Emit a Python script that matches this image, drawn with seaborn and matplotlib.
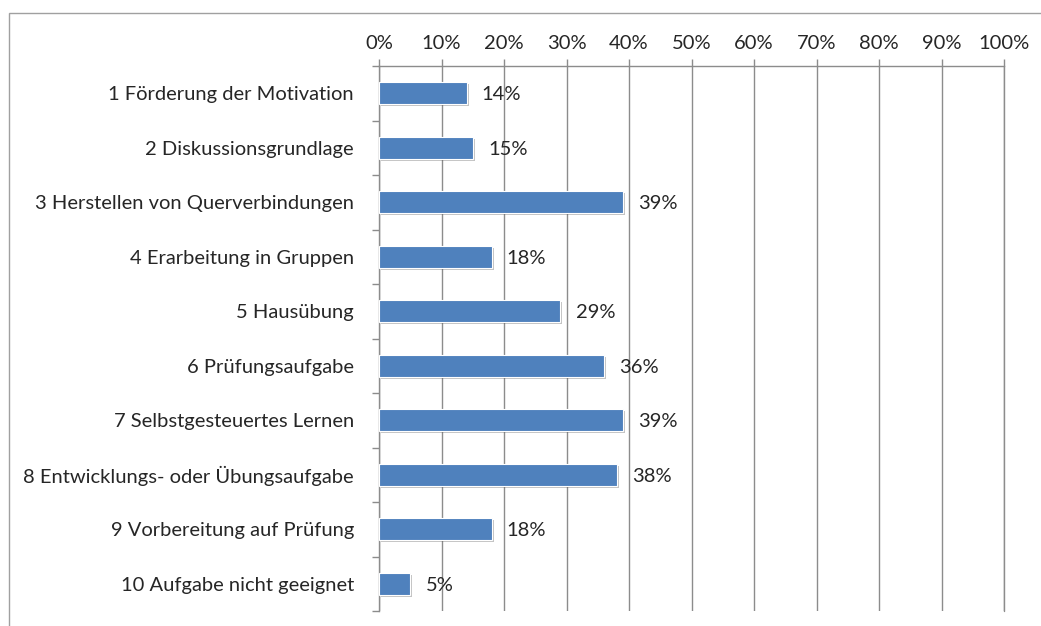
import matplotlib
matplotlib.use("Agg")
import matplotlib.pyplot as plt
import matplotlib.patheffects as pe
from matplotlib.patches import Rectangle
import seaborn as sns
import pandas as pd
import numpy as np

# Data
categories = [
    "1 Förderung der Motivation",
    "2 Diskussionsgrundlage",
    "3 Herstellen von Querverbindungen",
    "4 Erarbeitung in Gruppen",
    "5 Hausübung",
    "6 Prüfungsaufgabe",
    "7 Selbstgesteuertes Lernen",
    "8 Entwicklungs- oder Übungsaufgabe",
    "9 Vorbereitung auf Prüfung",
    "10 Aufgabe nicht geeignet",
]
values = [14, 15, 39, 18, 29, 36, 39, 38, 18, 5]
x_ticks = list(range(0, 101, 10))

BAR_COLOR = "#4F81BD"
GRID_COLOR = "#8C8C8C"
TEXT_COLOR = "#262626"
FS = 14.5

sns.set_theme(style="white")
plt.rcParams["font.family"] = ["Lato", "DejaVu Sans"]

df = pd.DataFrame({"cat": categories, "val": values})

fig = plt.figure(figsize=(10.41, 6.26), dpi=100)
ax = fig.add_axes([379 / 1041, 1 - 611 / 626, 625 / 1041, 545 / 626])

sns.barplot(data=df, x="val", y="cat", orient="h", color=BAR_COLOR,
            width=0.4, saturation=1, ax=ax, zorder=3)

for p in ax.patches:
    p.set_edgecolor("white")
    p.set_linewidth(0.8)
    p.set_path_effects([pe.SimplePatchShadow(offset=(1.5, -1.5), alpha=0.35,
                                             shadow_rgbFace="#555555"),
                        pe.Normal()])

# data labels
for i, v in enumerate(values):
    ax.annotate(f"{v}%", xy=(v, i), xytext=(11, -1), textcoords="offset points",
                va="center", ha="left", fontsize=FS, color=TEXT_COLOR)

ax.set_xlim(0, 100)
ax.set_ylim(len(categories) - 0.5, -0.5)
ax.set_xticks(x_ticks)
ax.set_xticklabels([f"{t}%" for t in x_ticks])
ax.xaxis.tick_top()
ax.tick_params(axis="x", which="major", direction="out", length=5, width=1,
               color=GRID_COLOR, labelsize=FS, labelcolor=TEXT_COLOR, pad=5)
ax.set_xlabel("")
ax.set_ylabel("")

# category ticks between bars
ax.set_yticks(np.arange(-0.5, len(categories), 1.0), minor=True)
ax.tick_params(axis="y", which="minor", direction="out", length=5, width=1,
               color=GRID_COLOR, left=True)
ax.tick_params(axis="y", which="major", length=0, labelsize=FS,
               labelcolor=TEXT_COLOR, pad=18)

ax.grid(axis="x", color=GRID_COLOR, linewidth=1, zorder=0)
ax.grid(axis="y", visible=False)
ax.set_axisbelow(True)
ax.axvline(100, color=GRID_COLOR, linewidth=1, clip_on=False, zorder=0)

for side in ["right", "bottom"]:
    ax.spines[side].set_visible(False)
for side in ["left", "top"]:
    ax.spines[side].set_color(GRID_COLOR)
    ax.spines[side].set_linewidth(1)

# outer chart border, cut off at right and bottom
fig.patches.append(Rectangle((9 / 1041, -0.1), 1.2, 1 - 13 / 626 + 0.1,
                             transform=fig.transFigure, fill=False,
                             edgecolor="#A0A0A0", linewidth=1))

fig.savefig("out.png", dpi=100)
